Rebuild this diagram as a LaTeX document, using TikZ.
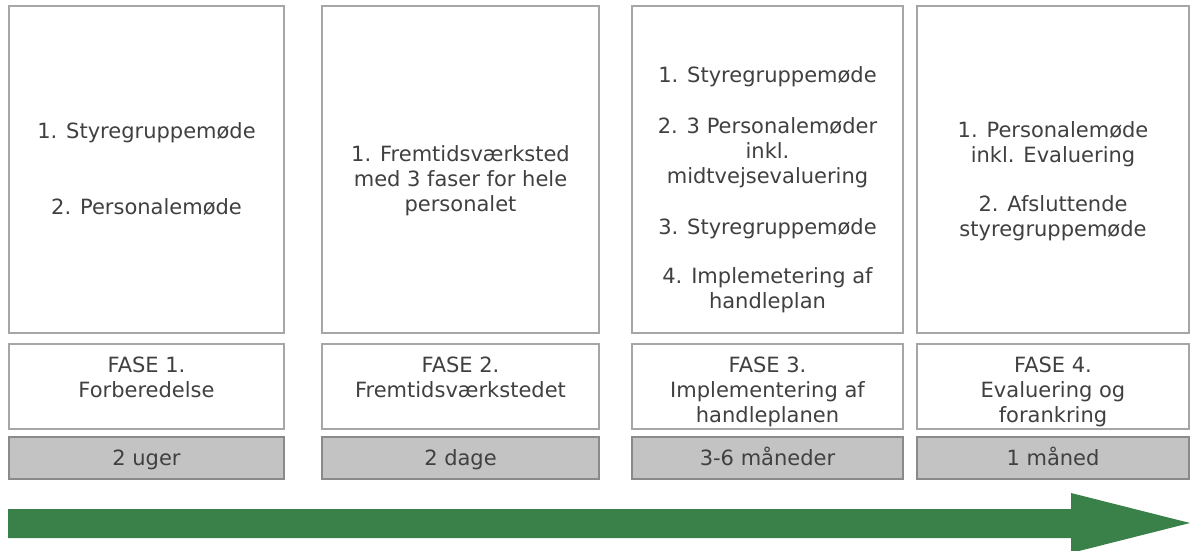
\documentclass[tikz,border=0pt]{standalone}
\usepackage{fontspec}
\setmainfont{DejaVu Sans}
\usepackage{tikz}
\definecolor{boxline}{HTML}{A6A6A6}
\definecolor{txtgrey}{HTML}{404040}
\definecolor{tidfill}{HTML}{C3C3C3}
\definecolor{tidline}{HTML}{8A8A8A}
\definecolor{pilgreen}{HTML}{3A8049}
\begin{document}
\begin{tikzpicture}[x=1pt,y=-1pt,
  txt/.style={text=txtgrey,align=center,inner sep=0pt,font=\fontsize{21}{25}\selectfont},
  topbox/.style={draw=boxline,line width=1.5pt,fill=white,minimum height=327pt,inner sep=0pt},
  fasebox/.style={draw=boxline,line width=1.5pt,fill=white,minimum height=85pt,inner sep=0pt},
  tidbox/.style={draw=tidline,line width=1.5pt,fill=tidfill,minimum height=42pt,inner sep=0pt,txt,
    text height=20pt,text depth=5pt}]
  \useasboundingbox (0,0) rectangle (1192,551);

  \node[topbox,minimum width=275pt] (b1) at (146.5,169.5) {};
  \node[topbox,minimum width=277pt] (b2) at (460.5,169.5) {};
  \node[topbox,minimum width=271pt] (b3) at (767.5,169.5) {};
  \node[topbox,minimum width=272pt] (b4) at (1053,169.5) {};

  \node[txt] (i1) at (b1.center) {1. Styregruppemøde\\[51pt] 2. Personalemøde};
  \node[txt] (i2) at (460.5,181) {1. Fremtidsværksted\\ med 3 faser for hele\\ personalet};
  \node[txt] (i3) at (767.5,190) {1. Styregruppemøde\\[26pt] 2. 3 Personalemøder\\ inkl.\\ midtvejsevaluering\\[26pt]
    3. Styregruppemøde\\[24pt] 4. Implemetering af\\ handleplan};
  \node[txt] (i4) at (1053,181) {1. Personalemøde\\ inkl. Evaluering\\[24pt] 2. Afsluttende\\ styregruppemøde};

  \node[fasebox,minimum width=275pt] (f1) at (146.5,386.5) {};
  \node[fasebox,minimum width=277pt] (f2) at (460.5,386.5) {};
  \node[fasebox,minimum width=271pt] (f3) at (767.5,386.5) {};
  \node[fasebox,minimum width=272pt] (f4) at (1053,386.5) {};

  \node[txt,anchor=north] (p1) at ([yshift=-13pt]f1.north) {FASE 1.\\ Forberedelse};
  \node[txt,anchor=north] (p2) at ([yshift=-13pt]f2.north) {FASE 2.\\ Fremtidsværkstedet};
  \node[txt,anchor=north] (p3) at ([yshift=-13pt]f3.north) {FASE 3.\\ Implementering af\\ handleplanen};
  \node[txt,anchor=north] (p4) at ([yshift=-13pt]f4.north) {FASE 4.\\ Evaluering og\\ forankring};

  \node[tidbox,minimum width=275pt] (t1) at (146.5,458) {2 uger};
  \node[tidbox,minimum width=277pt] (t2) at (460.5,458) {2 dage};
  \node[tidbox,minimum width=271pt] (t3) at (767.5,458) {3-6 måneder};
  \node[tidbox,minimum width=272pt] (t4) at (1053,458) {1 måned};

  \fill[pilgreen] (8,509) -- (1071,509) -- (1071,493) -- (1190,523) -- (1071,553)
    -- (1071,538) -- (8,538) -- cycle;
\end{tikzpicture}
\end{document}
